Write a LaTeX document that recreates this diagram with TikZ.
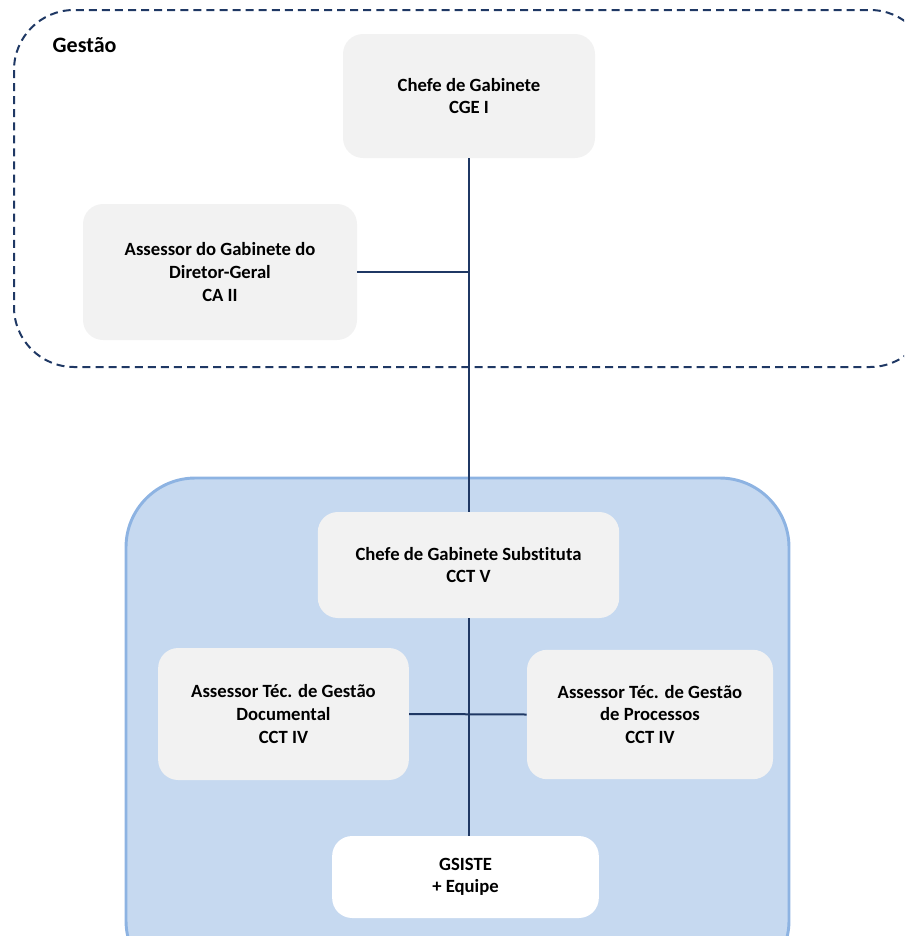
\documentclass[tikz,border=0pt]{standalone}
\usepackage{fontspec}
\setmainfont{Carlito}[Ligatures=CommonOff]
\usepackage{tikz}
\usetikzlibrary{positioning, calc}
\usepackage[dvipsnames, svgnames, table]{xcolor}
\definecolor{linenavy}{HTML}{1F3864}
\definecolor{boxgray}{HTML}{F2F2F2}
\definecolor{areablue}{HTML}{C6D9F0}
\definecolor{areaedge}{HTML}{8DB3E2}

\begin{document}
\begin{tikzpicture}[x=0.75pt, y=-0.75pt,
        cargo/.style={fill=boxgray, rounded corners=15pt, align=center,
            font=\fontsize{14}{17}\selectfont\bfseries, inner sep=0pt},
        liga/.style={draw=linenavy, line width=1.5pt}]
        \useasboundingbox (0, 0) rectangle (904, 936);
        \clip (0, 0) rectangle (904, 936);
        
        % Areas
        \draw[linenavy, line width=1.5pt, dash pattern=on 6pt off 3.8pt, rounded corners=45pt] (14, 10) rectangle (930, 367);
        \node[anchor=base west, font=\fontsize{16.5}{17}\selectfont\bfseries] (gestao) at (48, 52) {Gestão};
        \draw[fill=areablue, draw=areaedge, line width=2.2pt, rounded corners=52pt] (126, 478) rectangle (789, 990);
        
        % Gestao boxes
        \node[cargo, minimum width=189pt, minimum height=93pt] (cge) at (469, 96) {Chefe de Gabinete\\CGE I};
        \node[cargo, minimum width=205.5pt, minimum height=102pt] (ca) at (220, 272) {Assessor do Gabinete do\\Diretor-Geral\\CA II};
        
        % Lower boxes
        \node[cargo, minimum width=226pt, minimum height=79.5pt] (cctv) at (468.5, 565) {Chefe de Gabinete Substituta\\CCT V};
        \node[cargo, minimum width=188pt, minimum height=99pt] (doc) at (283.5, 714) {Assessor Téc. de Gestão\\Documental\\CCT IV};
        \node[cargo, minimum width=184.5pt, minimum height=97pt] (proc) at (650, 714.5) {Assessor Téc. de Gestão\\de Processos\\CCT IV};
        \node[cargo, fill=white, minimum width=200pt, minimum height=61.5pt] (gsiste) at (465.5, 877) {GSISTE\\+ Equipe};
        
        % Connectors
        \draw[liga] (cge.south) -- (cge.south |- cctv.north);
        \draw[liga] (ca.east) -- (ca.east -| cge.south);
        \draw[liga] (cctv.south) -- (cctv.south |- gsiste.north);
        \draw[liga] (doc.east) -- (proc.west);
    \end{tikzpicture}
\end{document}
